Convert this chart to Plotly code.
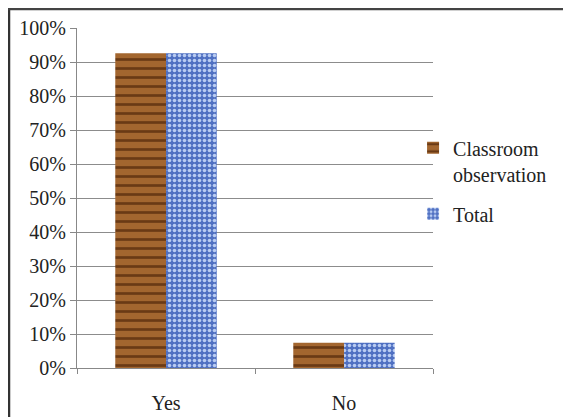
import plotly.graph_objects as go

categories = ["Yes", "No"]
classroom_observation = [92.6, 7.4]
total = [92.6, 7.4]
y_ticks = [0, 10, 20, 30, 40, 50, 60, 70, 80, 90, 100]
y_tick_labels = [f"{v}%" for v in y_ticks]

FONT = "Liberation Serif, Times New Roman, serif"

fig = go.Figure()
fig.add_trace(go.Bar(
    x=categories, y=classroom_observation, name="Classroom<br>observation",
    legendgroup="a",
    marker=dict(color="#9a5e2a", line=dict(width=0),
                pattern=dict(shape="-", fgcolor="#6a3a15", bgcolor="#a3662f",
                             size=9, solidity=0.3, fillmode="replace")),
))
fig.add_trace(go.Bar(
    x=categories, y=total, name="Total",
    legendgroup="b",
    marker=dict(color="#5675c4", line=dict(width=0),
                pattern=dict(shape=".", fgcolor="#b9ccf2", bgcolor="#4f70c2",
                             size=5, solidity=0.4, fillmode="replace")),
))

W, H = 563, 409
L, R, T, B = 69, 138, 20, 49
pw, ph = W - L - R, H - T - B

def px(x):
    return (x - L) / pw

def py(y):
    return (H - B - y) / ph

fig.update_layout(
    width=W, height=H,
    margin=dict(l=L, r=R, t=T, b=B, autoexpand=False),
    paper_bgcolor="white", plot_bgcolor="white",
    barmode="group", bargap=0.43, bargroupgap=0,
    font=dict(family=FONT, size=20, color="#222"),
    showlegend=True,
    legend=dict(x=0.944, y=0.705, xanchor="left", yanchor="top",
                font=dict(family=FONT, size=20, color="#222"),
                valign="top",
                bgcolor="rgba(0,0,0,0)", tracegroupgap=11, itemwidth=30),
    xaxis=dict(showline=True, linecolor="#888", linewidth=1,
               ticks="outside", tickson="boundaries", ticklen=5, tickcolor="#888",
               showgrid=False, tickfont=dict(size=20), ticklabelstandoff=17,
               automargin=False, fixedrange=True),
    yaxis=dict(range=[0, 100], tickvals=y_ticks, ticktext=y_tick_labels,
               showline=True, linecolor="#888", linewidth=1,
               ticks="outside", ticklen=6, tickcolor="#888",
               showgrid=True, gridcolor="#8c8c8c", gridwidth=1,
               tickfont=dict(size=20), zeroline=False, automargin=False),
    shapes=[
        dict(type="line", xref="paper", yref="paper",
             x0=px(1), x1=px(1), y0=py(H + 5), y1=py(1),
             line=dict(color="#333", width=2.5)),
        dict(type="line", xref="paper", yref="paper",
             x0=px(0), x1=px(W - 1), y0=py(1), y1=py(1),
             line=dict(color="#444", width=2.5)),
        dict(type="line", xref="paper", yref="paper",
             x0=px(W - 1.5), x1=px(W - 1.5), y0=py(H + 5), y1=py(1),
             line=dict(color="#bbb", width=1)),
    ],
)

fig.write_html("out.html")
